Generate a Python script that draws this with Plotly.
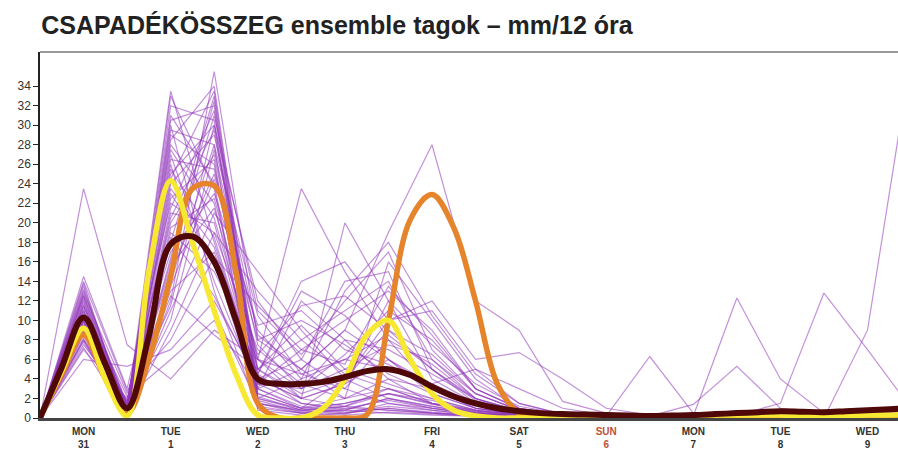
import pandas as pd
import plotly.graph_objects as go

# 12-hourly time steps of the ensemble members, 6-hourly for the smooth curves
times_12h = pd.date_range("2011-10-31 00:00", periods=21, freq="12h")
times_6h = pd.date_range("2011-10-31 00:00", periods=41, freq="6h")

day_ticks = pd.date_range("2011-10-31 12:00", periods=10, freq="24h")
day_names = ["MON", "TUE", "WED", "THU", "FRI", "SAT", "SUN", "MON", "TUE", "WED"]
day_nums = ["31", "1", "2", "3", "4", "5", "6", "7", "8", "9"]

y_ticks = list(range(0, 35, 2))

# ensemble members (mm / 12 h)
members = [
    [0, 10.5, 1.0, 33.5, 18.0, 4.0, 2.0, 3.5, 6.0, 2.5, 1.0, 0.3, 0.2, 0.1, 0.2, 0.3, 0.5, 0.4, 0.3, 0.5, 0.8],
    [0, 9.0, 0.5, 12.0, 35.5, 8.0, 5.0, 2.0, 4.0, 3.0, 1.5, 0.5, 0.2, 0.1, 0.1, 0.2, 0.4, 0.6, 0.5, 0.6, 0.9],
    [0, 23.5, 7.5, 4.0, 9.0, 6.0, 23.5, 15.0, 8.0, 3.0, 1.0, 0.5, 0.3, 0.2, 0.2, 0.3, 0.2, 0.3, 0.2, 0.4, 0.5],
    [0, 8.0, 0.3, 30.5, 32.0, 3.0, 1.0, 0.5, 1.0, 0.5, 0.3, 0.1, 0.1, 0.1, 0.1, 0.2, 0.3, 0.4, 0.3, 0.4, 0.6],
    [0, 12.5, 1.5, 28.0, 22.0, 2.5, 1.0, 4.0, 9.0, 5.0, 2.0, 0.5, 0.2, 0.1, 0.1, 0.1, 0.2, 0.3, 0.2, 0.3, 0.4],
    [0, 11.0, 0.8, 25.0, 30.0, 12.0, 6.0, 3.0, 1.5, 0.8, 0.3, 0.1, 0.1, 0.0, 0.1, 0.2, 0.5, 0.8, 0.6, 0.7, 1.0],
    [0, 7.0, 2.0, 20.0, 27.0, 5.0, 8.0, 11.0, 14.0, 6.0, 2.0, 0.8, 0.3, 0.2, 0.2, 0.3, 0.4, 0.5, 0.4, 0.5, 0.7],
    [0, 13.5, 0.5, 18.0, 33.0, 2.0, 0.8, 0.4, 1.5, 1.0, 0.5, 0.2, 0.1, 0.1, 0.1, 0.2, 0.3, 0.2, 0.2, 0.3, 0.5],
    [0, 9.5, 1.2, 15.0, 25.0, 9.0, 4.0, 6.0, 5.0, 3.5, 1.5, 0.6, 0.3, 0.2, 0.2, 0.3, 0.5, 0.6, 0.5, 0.6, 0.8],
    [0, 10.0, 0.4, 27.0, 14.0, 3.0, 12.0, 8.0, 4.0, 1.5, 0.5, 0.2, 0.1, 0.1, 0.1, 0.1, 0.2, 0.3, 0.2, 0.2, 0.3],
    [0, 14.5, 3.0, 22.0, 19.0, 7.0, 3.5, 2.0, 16.0, 10.0, 4.0, 1.0, 0.3, 0.2, 0.2, 0.3, 0.4, 0.4, 0.3, 0.4, 0.6],
    [0, 8.5, 0.6, 11.0, 21.0, 15.0, 9.0, 4.0, 2.0, 1.0, 0.4, 0.2, 0.1, 0.1, 0.1, 0.2, 0.3, 0.5, 0.4, 0.5, 0.7],
    [0, 6.0, 5.3, 7.0, 12.0, 4.0, 2.0, 20.0, 12.0, 4.0, 1.5, 0.5, 0.2, 0.1, 0.1, 0.2, 0.3, 0.4, 0.3, 0.4, 0.6],
    [0, 11.5, 1.0, 31.0, 24.0, 1.5, 0.5, 0.3, 0.6, 0.4, 0.2, 0.1, 0.1, 0.0, 0.1, 0.1, 0.2, 0.3, 0.2, 0.3, 0.4],
    [0, 9.8, 0.2, 24.0, 29.0, 8.5, 5.0, 9.0, 19.0, 28.0, 12.0, 9.0, 1.7, 0.5, 0.3, 0.2, 0.3, 0.4, 0.3, 0.4, 0.5],
    [0, 12.0, 0.7, 16.0, 31.0, 11.0, 6.5, 12.0, 17.0, 7.0, 2.5, 0.8, 0.3, 0.2, 0.2, 0.3, 0.4, 0.5, 0.4, 0.5, 0.7],
    [0, 7.5, 1.8, 13.0, 17.0, 4.5, 14.0, 16.0, 10.0, 12.0, 6.0, 6.7, 4.0, 1.0, 0.3, 0.2, 0.3, 0.3, 0.2, 0.3, 0.4],
    [0, 10.8, 0.5, 29.0, 26.0, 2.0, 1.0, 1.5, 2.5, 1.5, 0.8, 0.3, 0.2, 0.1, 0.1, 0.2, 0.3, 0.4, 0.3, 0.4, 0.5],
    [0, 13.0, 1.3, 19.0, 15.0, 6.0, 3.0, 5.0, 3.5, 2.0, 0.8, 0.3, 0.1, 0.1, 0.1, 0.1, 0.2, 0.3, 0.2, 0.3, 0.5],
    [0, 8.8, 0.9, 14.0, 28.0, 10.5, 4.5, 3.0, 8.0, 5.5, 2.0, 0.7, 0.3, 0.2, 6.3, 0.5, 0.3, 0.4, 0.3, 0.4, 0.5],
    [0, 11.2, 0.3, 21.0, 20.0, 3.5, 7.0, 10.0, 13.0, 9.0, 3.0, 1.0, 0.3, 0.2, 0.2, 1.4, 5.3, 1.0, 0.4, 0.5, 0.6],
    [0, 9.3, 1.6, 26.0, 11.0, 1.5, 0.8, 1.2, 2.5, 1.8, 0.7, 0.3, 0.1, 0.1, 0.1, 0.2, 12.3, 4.0, 0.5, 0.5, 0.7],
    [0, 12.8, 2.5, 17.0, 23.0, 9.5, 11.0, 7.0, 5.5, 3.0, 1.2, 0.4, 0.2, 0.1, 0.1, 0.2, 0.3, 1.5, 12.8, 7.0, 1.0],
    [0, 10.2, 0.6, 9.0, 19.0, 13.0, 8.0, 4.5, 3.0, 1.5, 0.6, 0.2, 0.1, 0.1, 0.1, 0.2, 0.3, 0.3, 0.0, 9.0, 37.0],
    [0, 7.8, 0.4, 32.0, 30.5, 1.8, 0.6, 0.8, 2.0, 1.2, 0.5, 0.2, 0.1, 0.1, 0.1, 0.2, 0.4, 0.5, 0.4, 0.5, 0.6],
    [0, 11.8, 1.1, 10.0, 27.5, 7.5, 3.0, 6.5, 11.0, 8.0, 3.0, 0.9, 0.3, 0.2, 0.2, 0.3, 0.4, 0.4, 0.3, 0.4, 0.6],
    [0, 9.0, 0.8, 23.0, 16.0, 2.0, 4.0, 13.0, 18.0, 10.5, 4.5, 1.5, 0.4, 0.2, 0.2, 0.2, 0.3, 0.4, 0.3, 0.4, 0.5],
    [0, 13.8, 0.2, 28.5, 34.0, 3.5, 1.5, 0.8, 0.5, 0.3, 0.2, 0.1, 0.1, 0.1, 0.1, 0.2, 0.3, 0.4, 0.4, 0.5, 0.6],
    [0, 10.6, 1.4, 12.5, 8.5, 5.0, 9.5, 5.0, 7.5, 6.0, 2.5, 0.8, 0.3, 0.2, 0.2, 0.3, 0.3, 0.4, 0.3, 0.4, 0.5],
    [0, 8.2, 0.5, 19.5, 22.5, 6.0, 2.0, 3.5, 12.0, 7.5, 3.5, 1.2, 0.4, 0.2, 0.2, 0.2, 0.4, 0.5, 0.4, 0.5, 0.7],
    [0, 12.2, 0.9, 30.0, 13.0, 1.0, 0.5, 0.8, 2.0, 1.2, 0.5, 0.2, 0.1, 0.1, 0.1, 0.2, 0.3, 0.3, 0.2, 0.3, 0.4],
    [0, 9.6, 0.3, 16.5, 32.5, 2.5, 1.0, 2.0, 3.0, 1.5, 0.7, 0.3, 0.2, 0.1, 0.1, 0.2, 0.4, 0.5, 0.4, 0.5, 0.6],
    [0, 11.4, 2.2, 6.0, 10.0, 3.0, 5.0, 9.0, 6.0, 3.5, 5.0, 3.0, 1.0, 0.3, 0.2, 0.2, 0.3, 0.4, 0.3, 0.4, 0.5],
    [0, 10.0, 0.7, 25.5, 18.5, 4.0, 6.0, 14.0, 15.0, 5.0, 1.5, 0.5, 0.2, 0.1, 0.1, 0.2, 0.3, 0.3, 0.3, 0.4, 0.5],
    [0, 8.0, 1.0, 20.5, 29.5, 4.5, 1.5, 1.0, 0.8, 0.5, 0.3, 0.2, 0.1, 0.1, 0.1, 0.2, 0.3, 0.4, 0.3, 0.4, 0.6],
    [0, 13.2, 0.6, 13.5, 24.5, 8.0, 10.0, 7.5, 4.5, 2.5, 1.0, 0.4, 0.2, 0.1, 0.1, 0.2, 0.4, 0.5, 0.4, 0.5, 0.7],
    [0, 10.4, 1.5, 27.5, 20.5, 5.0, 2.5, 4.0, 10.0, 11.0, 5.0, 1.5, 0.4, 0.2, 0.2, 0.2, 0.3, 0.4, 0.3, 0.4, 0.5],
    [0, 9.2, 0.4, 22.5, 26.5, 1.2, 0.5, 1.0, 1.8, 1.0, 0.4, 0.2, 0.1, 0.1, 0.1, 0.2, 0.3, 0.4, 0.3, 0.4, 0.6],
    [0, 11.6, 0.8, 18.5, 12.5, 3.5, 3.0, 8.0, 7.0, 4.5, 2.0, 0.7, 0.2, 0.1, 0.1, 0.2, 0.3, 0.4, 0.3, 0.4, 0.5],
    [0, 7.2, 0.2, 24.5, 33.5, 3.0, 1.2, 0.6, 1.2, 0.8, 0.4, 0.2, 0.1, 0.1, 0.1, 0.2, 0.4, 0.5, 0.4, 0.5, 0.6],
    [0, 12.6, 1.2, 15.5, 21.5, 6.5, 11.5, 12.5, 9.0, 6.5, 2.5, 0.8, 0.3, 0.2, 0.2, 0.3, 0.4, 0.4, 0.3, 0.4, 0.5],
    [0, 9.9, 0.5, 29.5, 28.0, 0.8, 0.3, 0.5, 1.0, 0.6, 0.3, 0.1, 0.1, 0.1, 0.1, 0.2, 0.3, 0.3, 0.3, 0.4, 0.5],
    [0, 14.0, 2.8, 8.0, 16.5, 11.5, 7.0, 5.5, 13.5, 8.5, 3.0, 1.0, 0.3, 0.2, 0.2, 0.2, 0.3, 0.4, 0.3, 0.4, 0.6],
    [0, 8.6, 0.6, 21.5, 31.5, 2.2, 0.8, 1.5, 2.5, 1.4, 0.6, 0.2, 0.1, 0.1, 0.1, 0.2, 0.4, 0.5, 0.4, 0.5, 0.6],
    [0, 11.0, 1.0, 26.5, 25.5, 6.0, 4.5, 6.0, 8.5, 5.0, 1.8, 0.6, 0.2, 0.1, 0.1, 0.2, 0.3, 0.4, 0.3, 0.4, 0.5],
    [0, 10.1, 0.3, 33.0, 23.5, 1.5, 0.7, 1.2, 3.0, 2.0, 0.8, 0.3, 0.2, 0.1, 0.1, 0.2, 0.3, 0.3, 0.3, 0.4, 0.5],
    [0, 9.4, 1.7, 11.5, 30.0, 5.0, 2.0, 1.2, 0.8, 0.5, 0.2, 0.1, 0.1, 0.1, 0.1, 0.2, 0.3, 0.4, 0.3, 0.4, 0.6],
    [0, 12.4, 0.7, 23.5, 17.5, 4.5, 13.0, 10.5, 6.0, 3.0, 1.0, 0.3, 0.1, 0.1, 0.1, 0.2, 0.3, 0.4, 0.3, 0.4, 0.5],
]

# highlighted runs, 6-hourly
orange_run = [0, 4.5, 8.5, 4.0, 0.5, 6.0, 14.5, 23.5, 23.8, 15.0, 1.5, 0.0, 0.0, 0.0, 0.0, 0.3, 10.0,
              20.3, 22.9, 19.5, 12.0, 3.5, 0.5, 0.0, 0.0, 0.0, 0.0, 0.0, 0.0, 0.0, 0.0, 0.0, 0.0,
              0.0, 0.0, 0.0, 0.0, 0.0, 0.0, 0.0, 0.0]
yellow_run = [0, 4.8, 9.2, 4.0, 0.2, 15.0, 24.3, 18.0, 11.0, 4.5, 0.3, 0.0, 0.0, 1.0, 4.0, 8.5, 10.0,
              6.0, 2.5, 0.8, 0.2, 0.0, 0.0, 0.0, 0.0, 0.0, 0.0, 0.0, 0.1, 0.1, 0.2, 0.3, 0.3,
              0.3, 0.3, 0.2, 0.2, 0.2, 0.3, 0.3, 0.4]
mean_run = [0, 5.2, 10.3, 5.5, 1.0, 8.4, 17.8, 18.6, 16.0, 10.0, 4.0, 3.5, 3.5, 3.7, 4.2, 4.8, 5.0,
            4.4, 3.2, 2.2, 1.5, 1.0, 0.7, 0.5, 0.4, 0.35, 0.3, 0.25, 0.2, 0.25, 0.3, 0.4, 0.5,
            0.6, 0.7, 0.65, 0.6, 0.7, 0.8, 0.9, 1.0]

fig = go.Figure()
for m in members:
    fig.add_trace(go.Scatter(x=times_12h, y=m, mode="lines",
                             line=dict(color="rgba(145,55,185,0.55)", width=1.2),
                             showlegend=False, hoverinfo="skip"))

fig.add_trace(go.Scatter(x=times_6h, y=orange_run, mode="lines", line=dict(color="#e5842b", width=5.5, shape="spline"), showlegend=False))
fig.add_trace(go.Scatter(x=times_6h, y=yellow_run, mode="lines", line=dict(color="#f7e832", width=5.5, shape="spline"), showlegend=False))
fig.add_trace(go.Scatter(x=times_6h, y=mean_run, mode="lines", line=dict(color="#4e0808", width=6, shape="spline"), showlegend=False))

ticktext = []
for n, d in zip(day_names, day_nums):
    if n == "SUN":
        ticktext.append(f"<span style='color:#c0503c'>{n}<br>{d}</span>")
    else:
        ticktext.append(f"{n}<br>{d}")

fig.update_layout(
    width=898, height=450,
    margin=dict(l=40, r=0, t=52, b=32),
    plot_bgcolor="white", paper_bgcolor="white",
    font=dict(family="Liberation Sans, Arial, sans-serif", color="#333"),
    title=dict(text="<b>CSAPADÉKÖSSZEG ensemble tagok – mm/12 óra</b>",
               xref="container", x=0.046, xanchor="left", y=0.945, yanchor="middle",
               font=dict(size=25, color="#222")),
    xaxis=dict(type="date", range=["2011-10-31 00:00", "2011-11-09 20:24"],
               tickvals=day_ticks, ticktext=ticktext,
               tickfont=dict(size=10, color="#333", weight="bold"),
               showgrid=False, zeroline=False, showline=True, linecolor="#444", linewidth=2.5,
               ticks="outside", ticklen=2, tickcolor="white", tickangle=0),
    yaxis=dict(range=[0, 37.5], tickvals=y_ticks, tickfont=dict(size=12, color="#333"),
               showgrid=False, zeroline=False, showline=True, linecolor="#222", linewidth=1.5,
               ticks="outside", ticklen=5, tickcolor="#222"),
)
fig.add_shape(type="line", xref="paper", yref="paper", x0=0, x1=1, y0=1, y1=1,
              line=dict(color="#999", width=2))

# page body margin would push the fixed-size figure off the window
fig.write_html("out.html", config={"displayModeBar": False},
               post_script="document.body.style.margin='0';")
